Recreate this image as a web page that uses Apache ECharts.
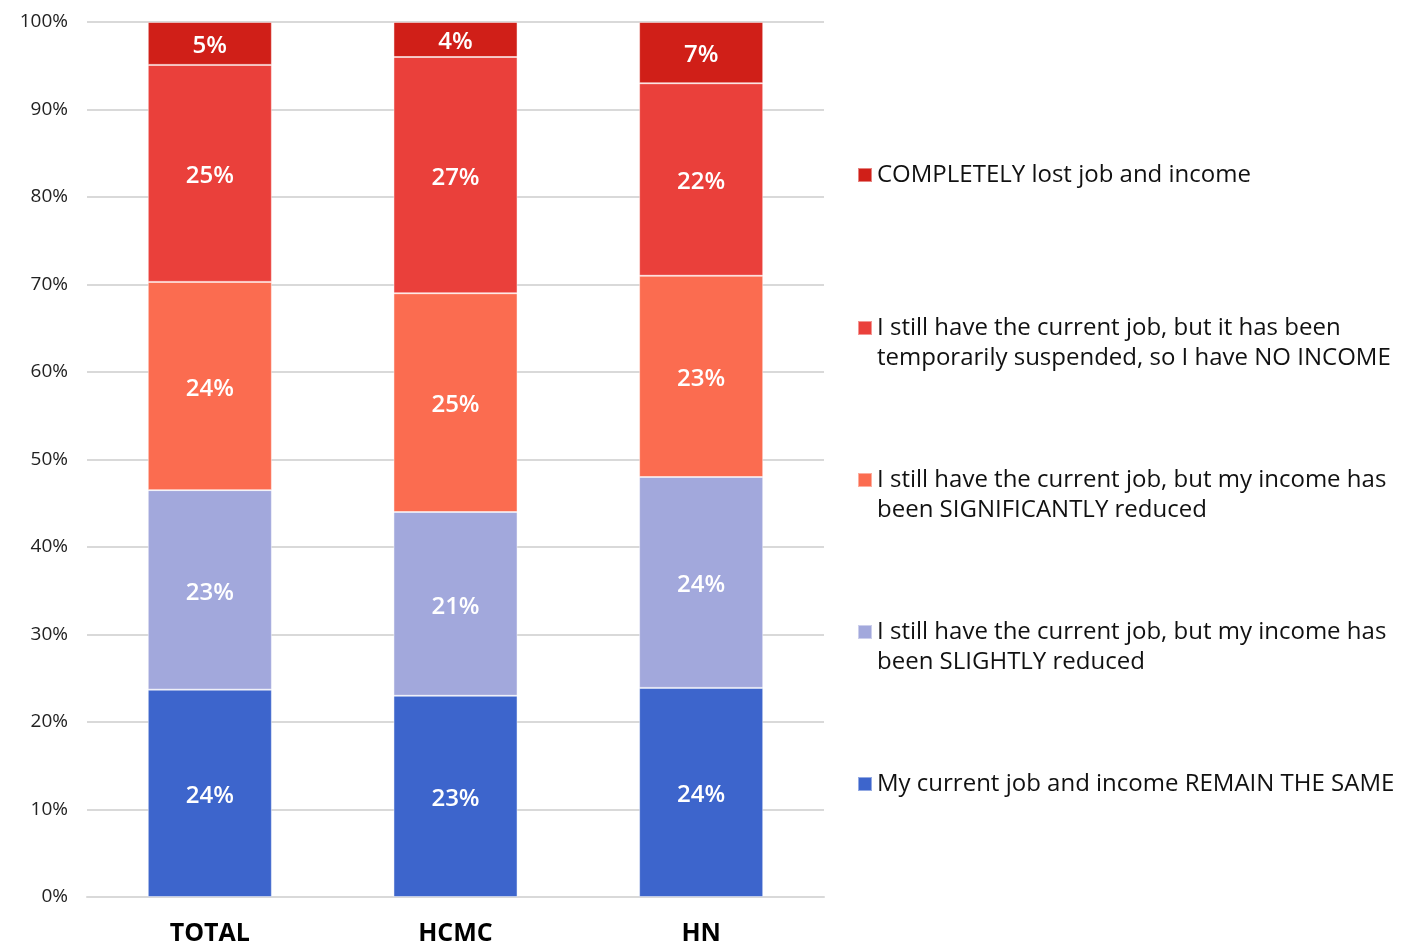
<!DOCTYPE html>
<html><head><meta charset="utf-8">
<script src="https://cdn.jsdelivr.net/npm/echarts@6/dist/echarts.min.js"></script>
<style>html,body{margin:0;padding:0;background:#fff}#c{width:1401px;height:946px}</style>
</head><body><div id="c"></div>
<script>
const categories = ['TOTAL', 'HCMC', 'HN'];
const seriesNames = [
  'My current job and income REMAIN THE SAME',
  'I still have the current job, but my income has\nbeen SLIGHTLY reduced',
  'I still have the current job, but my income has\nbeen SIGNIFICANTLY reduced',
  'I still have the current job, but it has been\ntemporarily suspended, so I have NO INCOME',
  'COMPLETELY lost job and income'
];
const remainSame = [23.7, 23.0, 23.9];
const slightlyReduced = [22.8, 21.0, 24.1];
const significantlyReduced = [23.8, 25.0, 23.0];
const noIncome = [24.8, 27.0, 22.0];
const completelyLost = [4.9, 4.0, 7.0];
const yTicks = [0, 10, 20, 30, 40, 50, 60, 70, 80, 90, 100];

const colors = ['#3D65CC', '#A2A8DC', '#FB6C50', '#EA403B', '#D01F18'];
const values = [remainSame, slightlyReduced, significantlyReduced, noIncome, completelyLost];
const FONT = '"Open Sans", "DejaVu Sans", sans-serif';

const series = values.map((v, i) => ({
  name: seriesNames[i],
  type: 'bar',
  stack: 'total',
  barWidth: '50.5%',
  data: v,
  itemStyle: { color: colors[i], borderColor: 'rgba(255,255,255,0.45)', borderWidth: 1 },
  label: {
    show: true, position: 'inside', offset: [0, 3], color: '#fff', fontSize: 24, fontWeight: 600,
    fontFamily: FONT,
    formatter: p => Math.round(p.value) + '%'
  },
  emphasis: { disabled: true }
}));

// legend order from top: completely lost ... remain same
const legendTops = [175, 328, 480, 632, 784];
const legendOrder = [4, 3, 2, 1, 0];
const legends = legendOrder.map((si, k) => {
  const twoLine = seriesNames[si].indexOf('\n') >= 0;
  return {
    data: [seriesNames[si]],
    orient: 'vertical',
    left: 857,
    top: twoLine ? legendTops[k] - 45 : legendTops[k] - 15,
    padding: 0,
    itemWidth: 14, itemHeight: 14,
    icon: 'rect',
    selectedMode: false,
    formatter: name => (name.indexOf('\n') >= 0 ? '\u00a0\n' + name : name),
    textStyle: { fontSize: 24, color: '#111', fontFamily: FONT, lineHeight: 30 }
  };
});

const chart = echarts.init(document.getElementById('c'));
chart.setOption({
  animation: false,
  color: colors,
  legend: legends,
  grid: { left: 87, right: 577, top: 22, bottom: 49, containLabel: false },
  xAxis: {
    type: 'category', data: categories,
    axisLine: { show: true, lineStyle: { color: '#d9d9d9', width: 2 } },
    axisTick: { show: false },
    axisLabel: { fontSize: 25, fontWeight: 'bold', color: '#000', margin: 24, fontFamily: FONT }
  },
  yAxis: {
    type: 'value', min: yTicks[0], max: yTicks[yTicks.length - 1], interval: 10,
    axisLine: { show: false }, axisTick: { show: false },
    splitLine: { lineStyle: { color: '#d9d9d9', width: 2 } },
    axisLabel: { fontSize: 19, color: '#222', margin: 19, fontFamily: FONT, formatter: v => v + '%' }
  },
  series: series
});
</script></body></html>
